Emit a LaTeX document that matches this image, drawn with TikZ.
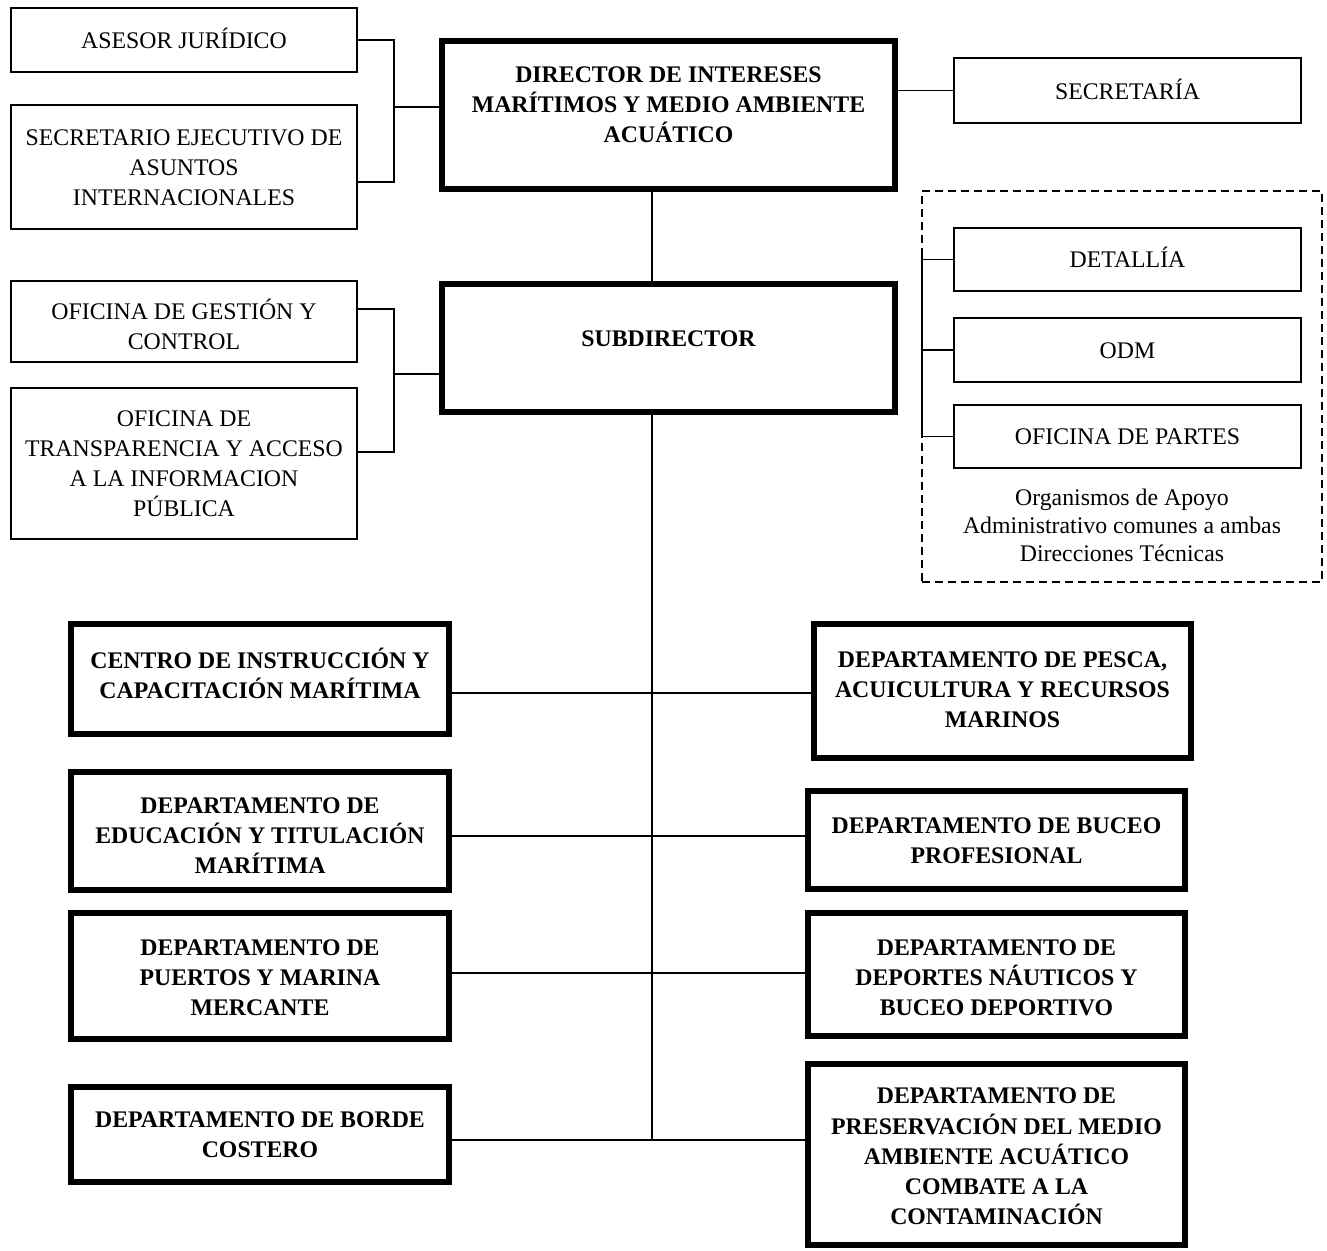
\documentclass[tikz,border=0pt]{standalone}
\usepackage{fontspec}
\setmainfont{Liberation Serif}
\tikzset{
  thinbox/.style={draw, rectangle, inner sep=0pt, outer sep=0pt, line width=2.2pt},
  thickbox/.style={draw, rectangle, inner sep=0pt, outer sep=0pt, line width=5.5pt},
  thinboxtxt/.style={align=center, inner sep=0pt, font=\fontsize{23.8}{30.2}\selectfont,
    execute at begin node=\strut, execute at end node=\strut},
  thickboxtxt/.style={align=center, inner sep=0pt, font=\fontsize{23.8}{30.2}\selectfont\bfseries,
    execute at begin node=\strut, execute at end node=\strut},
  conn/.style={line width=1.8pt},
  groupbox/.style={draw, rectangle, inner sep=0pt, outer sep=0pt, line width=1.6pt, dash pattern=on 8pt off 5pt},
  captxt/.style={align=center, inner sep=0pt, font=\fontsize{23.8}{28}\selectfont}
}
% name, style, x1, y1, x2, y2, text centre y, text
\newcommand\orgbox[8]{%
  \node[#2, minimum width={#5-#3}, minimum height={#6-#4}] (#1) at ({(#3+#5)/2},{(#4+#6)/2}) {};
  \node[#2txt] (#1-t) at ({(#3+#5)/2},{#7+2}) {#8};
}
\begin{document}
\begin{tikzpicture}[x=1pt,y=-1pt]
\useasboundingbox (0,0) rectangle (1327,1250);

% dashed grouping box
\node[groupbox, minimum width=400, minimum height=391] (apoyo) at (1122,386.5) {};

% top left
\orgbox{asesor}{thinbox}{11}{8}{357}{72}{40}{ASESOR JURÍDICO}
\orgbox{secre}{thinbox}{11}{105}{357}{229}{170}{SECRETARIO EJECUTIVO DE\\ASUNTOS\\INTERNACIONALES}
\orgbox{director}{thickbox}{442}{41}{895}{189}{107}{DIRECTOR DE INTERESES\\MARÍTIMOS Y MEDIO AMBIENTE\\ACUÁTICO}
\orgbox{secretaria}{thinbox}{954}{58}{1301}{123}{91}{SECRETARÍA}

% support offices
\orgbox{detallia}{thinbox}{954}{228}{1301}{291}{259}{DETALLÍA}
\orgbox{odm}{thinbox}{954}{318}{1301}{382}{350}{ODM}
\orgbox{partes}{thinbox}{954}{405}{1301}{468}{436}{OFICINA DE PARTES}
\node[captxt] (caption) at (1122,525) {Organismos de Apoyo\\Administrativo comunes a ambas\\Direcciones Técnicas};

% second level
\orgbox{gestion}{thinbox}{11}{281}{357}{362}{327}{OFICINA DE GESTIÓN Y\\CONTROL}
\orgbox{transp}{thinbox}{11}{388}{357}{539}{466}{OFICINA DE\\TRANSPARENCIA Y ACCESO\\A LA INFORMACION\\PÚBLICA}
\orgbox{subdir}{thickbox}{442}{284}{895}{412}{338}{SUBDIRECTOR}

% departments
\orgbox{centro}{thickbox}{71}{624}{449}{734}{676}{CENTRO DE INSTRUCCIÓN Y\\CAPACITACIÓN MARÍTIMA}
\orgbox{pesca}{thickbox}{814}{624}{1191}{758}{692}{DEPARTAMENTO DE PESCA,\\ACUICULTURA Y RECURSOS\\MARINOS}
\orgbox{educ}{thickbox}{71}{772}{449}{890}{838}{DEPARTAMENTO DE\\EDUCACIÓN Y TITULACIÓN\\MARÍTIMA}
\orgbox{buceo}{thickbox}{808}{791}{1185}{889}{843}{DEPARTAMENTO DE BUCEO\\PROFESIONAL}
\orgbox{puertos}{thickbox}{71}{913}{449}{1039}{980}{DEPARTAMENTO DE\\PUERTOS Y MARINA\\MERCANTE}
\orgbox{deportes}{thickbox}{808}{913}{1185}{1036}{980}{DEPARTAMENTO DE\\DEPORTES NÁUTICOS Y\\BUCEO DEPORTIVO}
\orgbox{borde}{thickbox}{71}{1087}{449}{1182}{1137}{DEPARTAMENTO DE BORDE\\COSTERO}
\orgbox{preserv}{thickbox}{808}{1064}{1185}{1245}{1159}{DEPARTAMENTO DE\\PRESERVACIÓN DEL MEDIO\\AMBIENTE ACUÁTICO\\COMBATE A LA\\CONTAMINACIÓN}

% junction coordinates
\coordinate (ja1) at (394,40);
\coordinate (ja2) at (394,182);
\coordinate (jam) at (394,107);
\coordinate (jb1) at (394,309);
\coordinate (jb2) at (394,452);
\coordinate (jbm) at (394,374);
\coordinate (spine) at (652,0);
\coordinate (spend) at (652,1140);
\coordinate (jc1) at (652,693);
\coordinate (jc2) at (652,836);
\coordinate (jc3) at (652,973);
\coordinate (jd) at (922,256);

% top-left bracket
\draw[conn] (asesor.east |- ja1) -- (ja1) -- (ja2) -- (secre.east |- ja2);
\draw[conn] (jam) -- (director.west |- jam);
% director to secretaria
\draw[conn] (director.east |- secretaria.west) -- (secretaria.west);
% director to subdirector
\draw[conn] (spine |- director.south) -- (spine |- subdir.north);
% second-left bracket
\draw[conn] (gestion.east |- jb1) -- (jb1) -- (jb2) -- (transp.east |- jb2);
\draw[conn] (jbm) -- (subdir.west |- jbm);
% support bracket
\draw[conn] (jd) -- (jd |- partes.west) -- (partes.west);
\draw[conn] (jd |- detallia.west) -- (detallia.west);
\draw[conn] (jd |- odm.west) -- (odm.west);
% main spine
\draw[conn] (spine |- subdir.south) -- (spend);
\draw[conn] (centro.east |- jc1) -- (pesca.west |- jc1);
\draw[conn] (educ.east |- jc2) -- (buceo.west |- jc2);
\draw[conn] (puertos.east |- jc3) -- (deportes.west |- jc3);
\draw[conn] (borde.east |- spend) -- (preserv.west |- spend);
\end{tikzpicture}
\end{document}
